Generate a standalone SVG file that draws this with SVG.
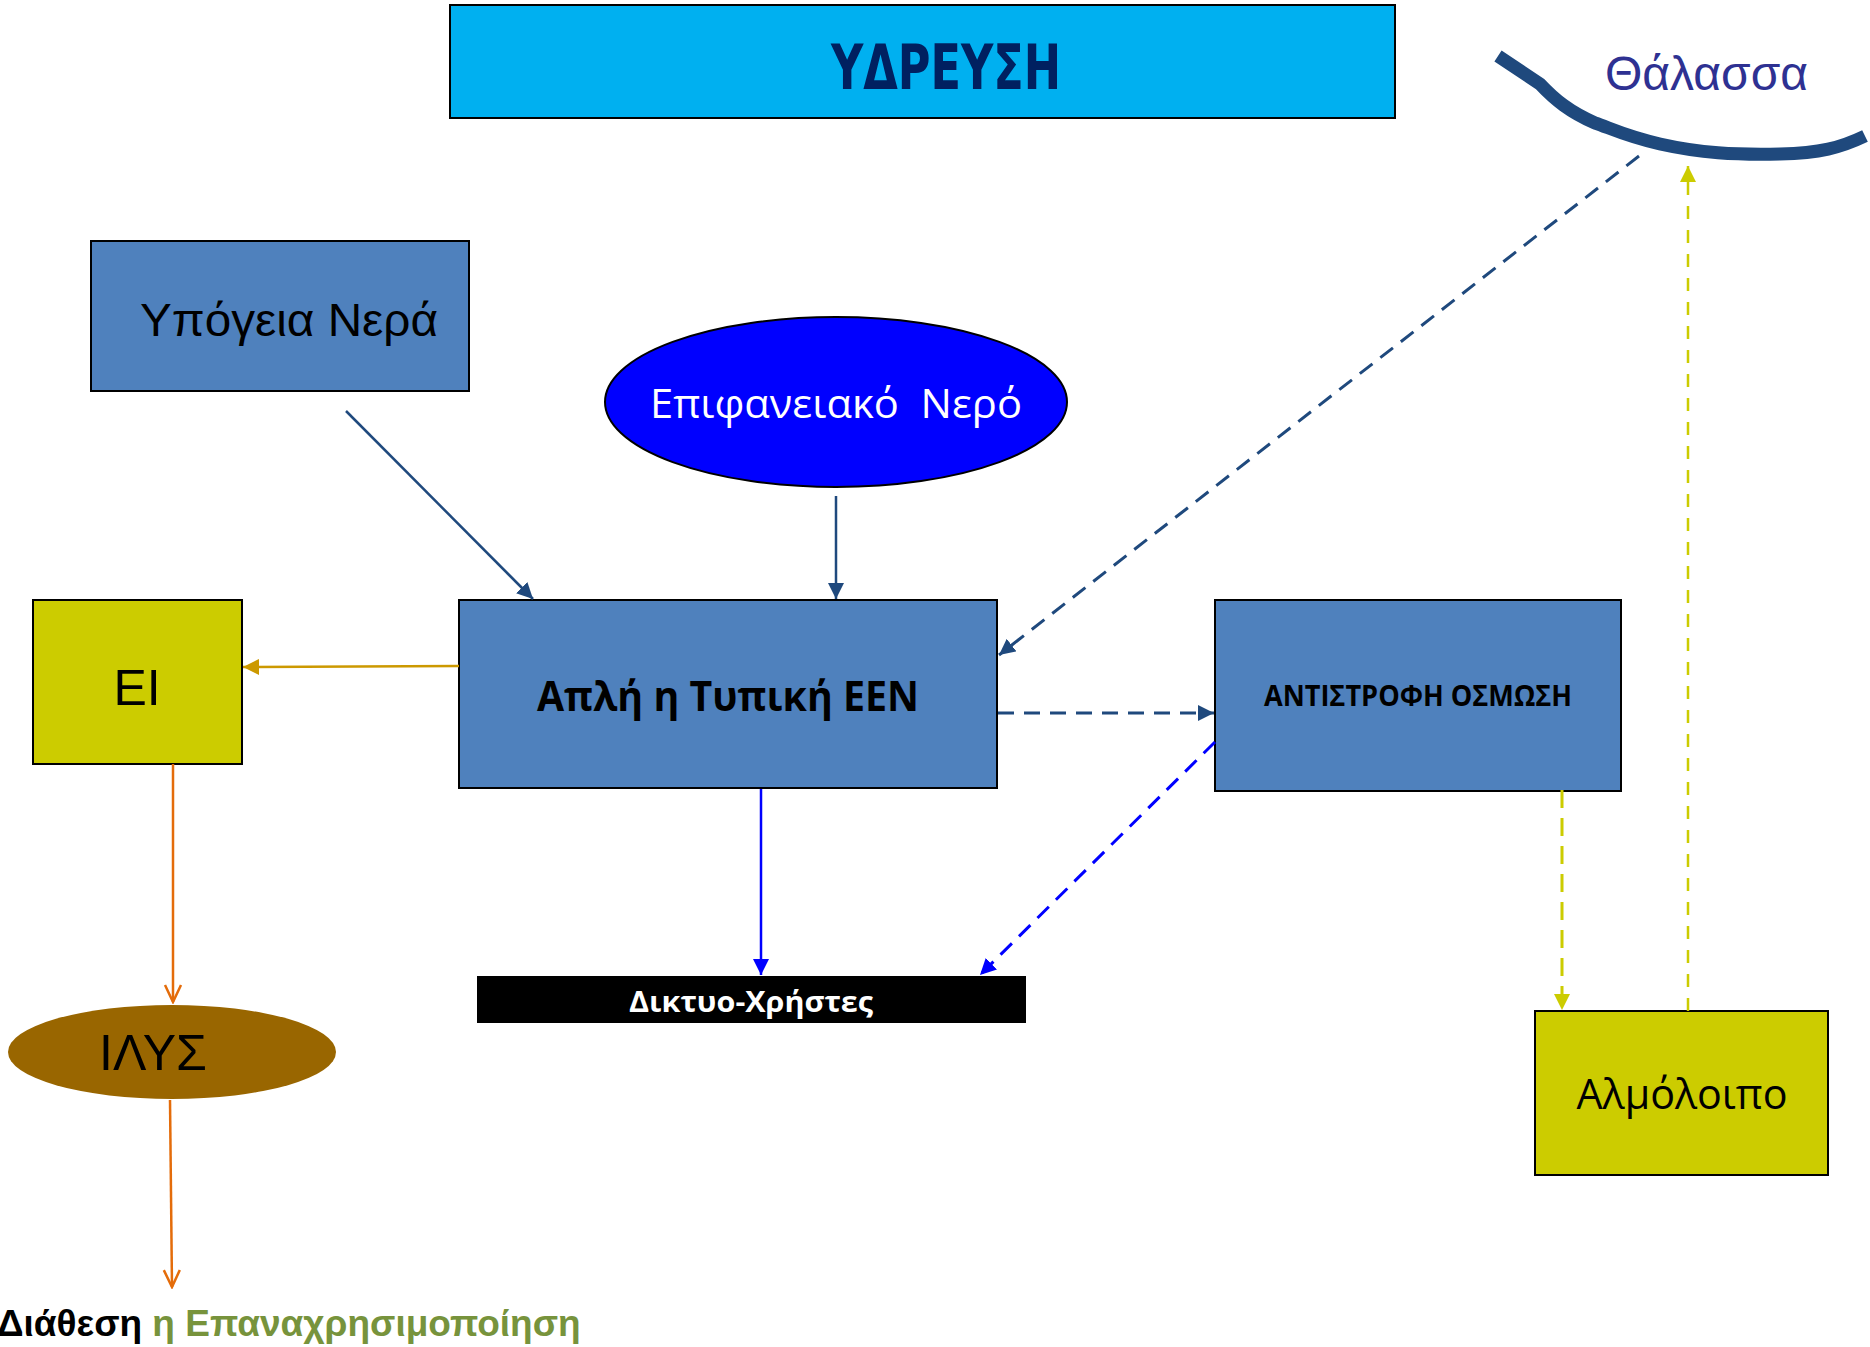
<svg xmlns="http://www.w3.org/2000/svg" width="1870" height="1347" viewBox="0 0 1870 1347">
<style>
  .box { stroke: #000; stroke-width: 2; }
  .blue { fill: #4F81BD; }
  .yel { fill: #CCCC00; }
  .arial { font-family: "Liberation Sans", Arial, sans-serif; }
  .cal { font-family: "Open Sans", "Noto Sans", sans-serif; }
  .navy { stroke: #1F497D; stroke-width: 2.5; fill: none; }
  .navyd { stroke: #1F497D; stroke-width: 3; fill: none; stroke-dasharray: 16 10; }
  .blued { stroke: #0000FF; stroke-width: 3; fill: none; stroke-dasharray: 16 10; }
  .bluel { stroke: #0000FF; stroke-width: 2.5; fill: none; }
  .gold { stroke: #CC9900; stroke-width: 2.5; fill: none; }
  .orange { stroke: #E46C0A; stroke-width: 2.5; fill: none; }
  .yeld { stroke: #CCCC00; stroke-width: 3; fill: none; stroke-dasharray: 18 10; }
  .yeld2 { stroke: #CCCC00; stroke-width: 2.5; fill: none; stroke-dasharray: 13 11; }
</style>
<defs>
  <marker id="aNavy" markerUnits="userSpaceOnUse" markerWidth="18" markerHeight="16" refX="16" refY="8" orient="auto">
    <path d="M0,0 L16,8 L0,16 z" fill="#1F497D"/>
  </marker>
  <marker id="aBlue" markerUnits="userSpaceOnUse" markerWidth="18" markerHeight="16" refX="16" refY="8" orient="auto">
    <path d="M0,0 L16,8 L0,16 z" fill="#0000FF"/>
  </marker>
  <marker id="aGold" markerUnits="userSpaceOnUse" markerWidth="18" markerHeight="16" refX="16" refY="8" orient="auto">
    <path d="M0,0 L16,8 L0,16 z" fill="#CC9900"/>
  </marker>
  <marker id="aYel" markerUnits="userSpaceOnUse" markerWidth="18" markerHeight="16" refX="16" refY="8" orient="auto">
    <path d="M0,0 L16,8 L0,16 z" fill="#CCCC00"/>
  </marker>
  <marker id="aOrange" markerUnits="userSpaceOnUse" markerWidth="20" markerHeight="20" refX="18" refY="10" orient="auto">
    <path d="M1,2 L18,10 L1,18" fill="none" stroke="#E46C0A" stroke-width="2.5"/>
  </marker>
</defs>
<rect width="1870" height="1347" fill="#FFFFFF"/>

<g id="title">
  <rect x="450" y="5" width="945" height="113" fill="#00B0F0" class="box"/>
  <text x="946" y="89" text-anchor="middle" font-family="'DejaVu Sans Condensed', 'Liberation Sans Narrow', sans-serif" font-weight="bold" font-size="62" fill="#002060" textLength="230" lengthAdjust="spacingAndGlyphs">ΥΔΡΕΥΣΗ</text>
</g>

<g id="sea">
  <path d="M1498,56 L1540,84 C1555,100 1570,112 1595,123 C1610,128 1625,136 1660,144 C1700,153 1735,155 1780,154 C1820,153 1840,148 1865,136" fill="none" stroke="#1F497D" stroke-width="13"/>
  <text x="1605" y="90" class="arial" font-size="48" fill="#2E3192">Θάλασσα</text>
</g>

<g id="groundwater">
  <rect x="91" y="241" width="378" height="150" class="box blue"/>
  <text x="140" y="336" class="arial" font-size="46" fill="#000" textLength="298" lengthAdjust="spacingAndGlyphs">Υπόγεια Νερά</text>
</g>

<g id="surface">
  <ellipse cx="836" cy="402" rx="231" ry="85" fill="#0000FF" stroke="#000" stroke-width="2"/>
  <text x="650" y="418" class="cal" font-size="41" fill="#FFFFFF" xml:space="preserve" textLength="372" lengthAdjust="spacingAndGlyphs">Επιφανειακό  Νερό</text>
</g>

<g id="een">
  <rect x="459" y="600" width="538" height="188" class="box blue"/>
  <text x="728" y="711" text-anchor="middle" class="cal" font-weight="bold" font-size="42" fill="#000" textLength="382" lengthAdjust="spacingAndGlyphs">Απλή η Τυπική ΕΕΝ</text>
</g>

<g id="ei">
  <rect x="33" y="600" width="209" height="164" class="box yel"/>
  <text x="137" y="705" text-anchor="middle" class="arial" font-size="50" fill="#000">ΕΙ</text>
</g>

<g id="osmosis">
  <rect x="1215" y="600" width="406" height="191" class="box blue"/>
  <text x="1418" y="706" text-anchor="middle" class="cal" font-weight="bold" font-size="28" fill="#000" textLength="308" lengthAdjust="spacingAndGlyphs">ΑΝΤΙΣΤΡΟΦΗ ΟΣΜΩΣΗ</text>
</g>

<g id="network">
  <rect x="477" y="976" width="549" height="47" fill="#000"/>
  <text x="751" y="1012" text-anchor="middle" class="cal" font-weight="bold" font-size="29" fill="#FFFFFF" textLength="244" lengthAdjust="spacingAndGlyphs">Δικτυο-Χρήστες</text>
</g>

<g id="sludge">
  <ellipse cx="172" cy="1052" rx="164" ry="47" fill="#996600"/>
  <text x="153" y="1070" text-anchor="middle" class="arial" font-size="50" fill="#000">ΙΛΥΣ</text>
</g>

<g id="brine">
  <rect x="1535" y="1011" width="293" height="164" class="box yel"/>
  <text x="1682" y="1109" text-anchor="middle" class="cal" font-size="42" fill="#000" textLength="211" lengthAdjust="spacingAndGlyphs">Αλμόλοιπο</text>
</g>

<g id="disposal">
  <text x="-3" y="1336" class="arial" font-weight="bold" font-size="37"><tspan fill="#000">Διάθεση</tspan><tspan fill="#77933C"> η Επαναχρησιμοποίηση</tspan></text>
</g>

<g id="connectors">
  <line x1="346" y1="411" x2="533" y2="599" class="navy" marker-end="url(#aNavy)"/>
  <line x1="836" y1="496" x2="836" y2="599" class="navy" marker-end="url(#aNavy)"/>
  <line x1="1639" y1="156" x2="999" y2="655" class="navyd" marker-end="url(#aNavy)"/>
  <line x1="998" y1="713" x2="1214" y2="713" class="navyd" marker-end="url(#aNavy)"/>
  <line x1="459" y1="666" x2="243" y2="667" class="gold" marker-end="url(#aGold)"/>
  <line x1="761" y1="789" x2="761" y2="975" class="bluel" marker-end="url(#aBlue)"/>
  <line x1="1215" y1="742" x2="980" y2="975" class="blued" marker-end="url(#aBlue)"/>
  <line x1="1562" y1="790" x2="1562" y2="1010" class="yeld" marker-end="url(#aYel)"/>
  <line x1="1688" y1="1011" x2="1688" y2="166" class="yeld2" marker-end="url(#aYel)"/>
  <line x1="173" y1="764" x2="173" y2="1002" class="orange" marker-end="url(#aOrange)"/>
  <line x1="170" y1="1100" x2="172" y2="1287" class="orange" marker-end="url(#aOrange)"/>
</g>
</svg>
